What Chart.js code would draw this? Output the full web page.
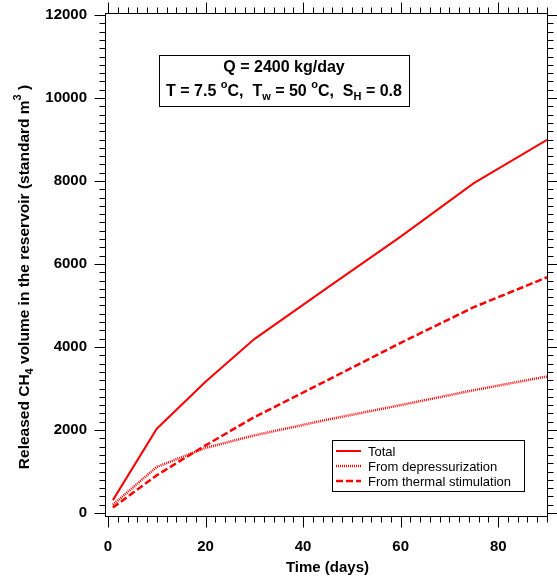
<!DOCTYPE html>
<html>
<head>
<meta charset="utf-8">
<script src="https://cdn.jsdelivr.net/npm/chart.js@4.4.0/dist/chart.umd.min.js"></script>
<style>
html, body { margin: 0; padding: 0; background: #fff; }
#wrap { width: 557px; height: 577px; }
</style>
</head>
<body>
<div id="wrap"><canvas id="releaseChart" width="557" height="577"></canvas></div>
<script>
// Data
const days = [1, 10, 20, 30, 45, 60, 75, 90];
const totalVolume = [310, 2030, 3160, 4190, 5430, 6660, 7950, 8990];
const depressVolume = [200, 1110, 1570, 1870, 2250, 2600, 2960, 3290];
const thermalVolume = [130, 910, 1630, 2310, 3200, 4100, 4960, 5680];

const seriesLabels = ['Total', 'From depressurization', 'From thermal stimulation'];
const xMajorTicks = [0, 20, 40, 60, 80];
const yMajorTicks = [0, 2000, 4000, 6000, 8000, 10000, 12000];
const xMinorStep = 2;
const yMinorStep = 200;

const FONT = "'Liberation Sans', Arial, sans-serif";
const RED = '#ff0000';

// draw a row of text pieces, some raised or lowered
function drawRich(ctx, parts, cx, cy, size) {
    const widths = parts.map(p => {
        ctx.font = 'bold ' + (p[1] ? Math.round(size * 0.7) : size) + 'px ' + FONT;
        return ctx.measureText(p[0]).width;
    });
    let x = cx - widths.reduce((a, b) => a + b, 0) / 2;
    parts.forEach((p, i) => {
        const small = p[1];
        ctx.font = 'bold ' + (small ? Math.round(size * 0.7) : size) + 'px ' + FONT;
        let dy = 0;
        if (small === 'sup') dy = -size * 0.45;
        if (small === 'sub') dy = size * 0.3;
        ctx.fillText(p[0], x, cy + dy);
        x += widths[i];
    });
}

// no extra room for half labels, the layout is fixed by hand
function noPadding(s) {
    s.paddingTop = 0;
    s.paddingBottom = 0;
    s.paddingLeft = 0;
    s.paddingRight = 0;
}

// Frame, minor ticks, annotation, legend and y title
const decorPlugin = {
    id: 'decor',
    afterDraw(chart) {
        const { ctx, chartArea: a, scales: { x, y } } = chart;
        const L = a.left - 3, B = a.bottom + 3, T = a.top - 2, R = a.right;
        ctx.save();
        ctx.strokeStyle = '#000';
        ctx.lineWidth = 1;
        ctx.strokeRect(L + 0.5, T + 0.5, R - L, B - T);

        ctx.beginPath();
        for (let v = 0; v <= 12000; v += yMinorStep) {
            const py = Math.round(y.getPixelForValue(v)) + 0.5;
            const len = yMajorTicks.includes(v) ? 11 : 6;
            ctx.moveTo(L + 0.5, py); ctx.lineTo(L + 0.5 - len, py);
            ctx.moveTo(R + 0.5, py); ctx.lineTo(R + 0.5 + len, py);
        }
        for (let v = 0; v <= 90; v += xMinorStep) {
            const px = Math.round(x.getPixelForValue(v)) + 0.5;
            const len = v % 20 === 0 ? 11 : 6;
            ctx.moveTo(px, B + 0.5); ctx.lineTo(px, B + 0.5 + len);
            ctx.moveTo(px, T + 0.5); ctx.lineTo(px, T + 0.5 - len);
        }
        ctx.stroke();

        // annotation box
        ctx.strokeRect(159.5, 55.5, 250, 51);
        ctx.fillStyle = '#000';
        ctx.textAlign = 'left';
        ctx.textBaseline = 'middle';
        drawRich(ctx, [['Q = 2400 kg/day']], 284, 68, 16);
        drawRich(ctx, [
            ['T = 7.5 '], ['o', 'sup'], ['C,  T'], ['w', 'sub'], [' = 50 '],
            ['o', 'sup'], ['C,  S'], ['H', 'sub'], [' = 0.8']
        ], 284, 92, 16);

        // legend box
        ctx.strokeRect(332.5, 440.5, 192, 51);
        const rowsY = [451, 466, 481];
        chart.data.datasets.forEach((ds, i) => {
            ctx.save();
            ctx.strokeStyle = ds.borderColor;
            ctx.lineWidth = ds.borderWidth;
            ctx.setLineDash(ds.borderDash || []);
            ctx.beginPath();
            ctx.moveTo(336, rowsY[i]);
            ctx.lineTo(361, rowsY[i]);
            ctx.stroke();
            ctx.restore();
            ctx.font = '13px ' + FONT;
            ctx.fillStyle = '#000';
            ctx.fillText(ds.label, 368, rowsY[i] + 1);
        });

        // y axis title, rotated
        ctx.translate(25, 277);
        ctx.rotate(-Math.PI / 2);
        drawRich(ctx, [
            ['Released CH'], ['4', 'sub'], [' volume in the reservoir (standard m'],
            ['3', 'sup'], [' )']
        ], 0, 0, 15.5);
        ctx.restore();
    }
};

function initializeReleaseChart() {
    const ctx = document.getElementById('releaseChart');
    if (!ctx) return;

    new Chart(ctx, {
        type: 'line',
        data: {
            labels: days,
            datasets: [
                {
                    label: seriesLabels[0],
                    data: totalVolume,
                    borderColor: RED,
                    borderWidth: 2,
                    pointRadius: 0
                },
                {
                    label: seriesLabels[1],
                    data: depressVolume,
                    borderColor: RED,
                    borderWidth: 2.5,
                    borderDash: [1, 1],
                    pointRadius: 0
                },
                {
                    label: seriesLabels[2],
                    data: thermalVolume,
                    borderColor: RED,
                    borderWidth: 2.5,
                    borderDash: [7, 3],
                    pointRadius: 0
                }
            ]
        },
        options: {
            responsive: false,
            animation: false,
            devicePixelRatio: 1,
            layout: { padding: { top: 15, right: 10, left: 0, bottom: 0 } },
            plugins: {
                legend: { display: false },
                tooltip: { enabled: false }
            },
            scales: {
                x: {
                    type: 'linear',
                    min: 0,
                    max: 90,
                    afterBuildTicks: s => { s.ticks = xMajorTicks.map(v => ({ value: v })); },
                    afterFit: s => { s.height = 64; noPadding(s); },
                    grid: { display: false, drawTicks: false },
                    border: { display: false },
                    ticks: {
                        color: '#000',
                        padding: 25,
                        maxRotation: 0,
                        callback: v => String(v),
                        font: { family: FONT, size: 15, weight: 'bold' }
                    },
                    title: {
                        display: true,
                        text: 'Time (days)',
                        color: '#000',
                        padding: { top: 0, bottom: 0 },
                        font: { family: FONT, size: 15, weight: 'bold' }
                    }
                },
                y: {
                    min: 0,
                    max: 12000,
                    afterBuildTicks: s => { s.ticks = yMajorTicks.map(v => ({ value: v })); },
                    afterFit: s => { s.width = 108; noPadding(s); },
                    grid: { display: false, drawTicks: false },
                    border: { display: false },
                    ticks: {
                        color: '#000',
                        padding: 21,
                        callback: v => String(v),
                        font: { family: FONT, size: 15, weight: 'bold' }
                    }
                }
            }
        },
        plugins: [decorPlugin]
    });
}

initializeReleaseChart();
</script>
</body>
</html>
